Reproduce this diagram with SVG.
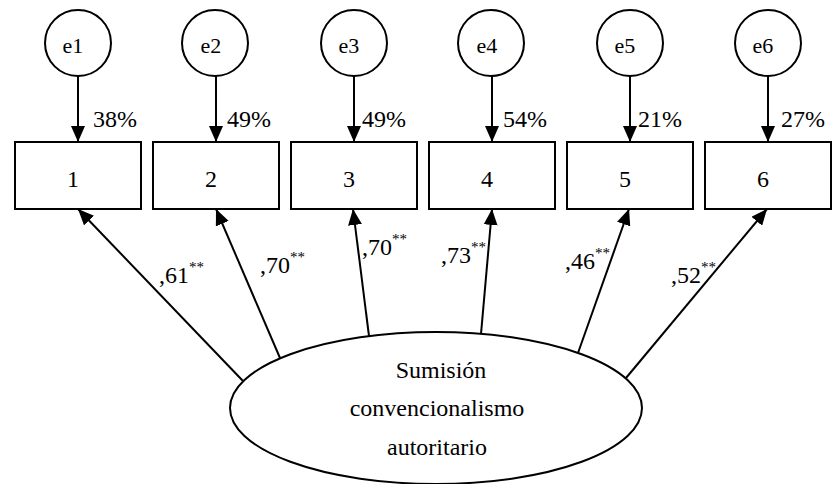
<svg xmlns="http://www.w3.org/2000/svg" width="834" height="484" viewBox="0 0 834 484">
<style>
text{font-family:"Liberation Serif",Tinos,"Times New Roman",Times,"Nimbus Roman","Nimbus Roman No9 L",FreeSerif,"DejaVu Serif","Noto Serif",serif;fill:#000}
.sh{fill:#fff;stroke:#000;stroke-width:2}
.t{font-size:24px}
.e{font-size:22px;text-anchor:middle}
.n{font-size:24px;text-anchor:middle}
.sup{font-size:15px}
.c{stroke:#000;stroke-width:2;fill:none;marker-end:url(#ah)}
</style>
<defs>
<marker id="ah" markerUnits="userSpaceOnUse" markerWidth="16" markerHeight="14" refX="16" refY="7" orient="auto">
<path d="M0,0 L16,7 L0,14 z" fill="#000"/>
</marker>
</defs>
<rect width="834" height="484" fill="#fff"/>
<g id="connectors">
<line class="c" x1="78" y1="76" x2="78" y2="142"/>
<line class="c" x1="216" y1="76" x2="216" y2="142"/>
<line class="c" x1="354" y1="76" x2="354" y2="142"/>
<line class="c" x1="492" y1="76" x2="492" y2="142"/>
<line class="c" x1="630" y1="76" x2="630" y2="142"/>
<line class="c" x1="768" y1="76" x2="768" y2="142"/>
<line class="c" x1="243" y1="381" x2="78" y2="209"/>
<line class="c" x1="280" y1="358" x2="216" y2="209"/>
<line class="c" x1="369" y1="336" x2="353" y2="209"/>
<line class="c" x1="481" y1="334" x2="492" y2="209"/>
<line class="c" x1="578" y1="353" x2="629" y2="209"/>
<line class="c" x1="626" y1="378" x2="767" y2="209"/>
<text class="t" x="93" y="127">38%</text>
<text class="t" x="227" y="127">49%</text>
<text class="t" x="362" y="127">49%</text>
<text class="t" x="503" y="127">54%</text>
<text class="t" x="638" y="127">21%</text>
<text class="t" x="781" y="127">27%</text>
<text class="t" x="159" y="283">,61<tspan class="sup" dy="-11">**</tspan></text>
<text class="t" x="260" y="273">,70<tspan class="sup" dy="-11">**</tspan></text>
<text class="t" x="362" y="255">,70<tspan class="sup" dy="-11">**</tspan></text>
<text class="t" x="441" y="263">,73<tspan class="sup" dy="-11">**</tspan></text>
<text class="t" x="565" y="269">,46<tspan class="sup" dy="-11">**</tspan></text>
<text class="t" x="671" y="283">,52<tspan class="sup" dy="-11">**</tspan></text>
</g>
<g id="e1"><circle class="sh" cx="78" cy="43" r="33"/><text class="e" x="73" y="53">e1</text></g>
<g id="e2"><circle class="sh" cx="215" cy="43" r="33"/><text class="e" x="211" y="53">e2</text></g>
<g id="e3"><circle class="sh" cx="354" cy="43" r="33"/><text class="e" x="349" y="53">e3</text></g>
<g id="e4"><circle class="sh" cx="491" cy="43" r="33"/><text class="e" x="487" y="53">e4</text></g>
<g id="e5"><circle class="sh" cx="630" cy="43" r="33"/><text class="e" x="625" y="53">e5</text></g>
<g id="e6"><circle class="sh" cx="768" cy="43" r="33"/><text class="e" x="763" y="53">e6</text></g>
<g id="v1"><rect class="sh" x="15" y="142" width="126" height="67"/><text class="n" x="73" y="187">1</text></g>
<g id="v2"><rect class="sh" x="153" y="142" width="126" height="67"/><text class="n" x="211" y="187">2</text></g>
<g id="v3"><rect class="sh" x="291" y="142" width="126" height="67"/><text class="n" x="349" y="187">3</text></g>
<g id="v4"><rect class="sh" x="429" y="142" width="126" height="67"/><text class="n" x="487" y="187">4</text></g>
<g id="v5"><rect class="sh" x="567" y="142" width="126" height="67"/><text class="n" x="625" y="187">5</text></g>
<g id="v6"><rect class="sh" x="705" y="142" width="126" height="67"/><text class="n" x="763" y="187">6</text></g>
<g id="factor">
<ellipse class="sh" cx="436" cy="408" rx="206" ry="76"/>
<text class="n" x="441" y="378">Sumisión</text>
<text class="n" x="437" y="416">convencionalismo</text>
<text class="n" x="437" y="455">autoritario</text>
</g>
</svg>
